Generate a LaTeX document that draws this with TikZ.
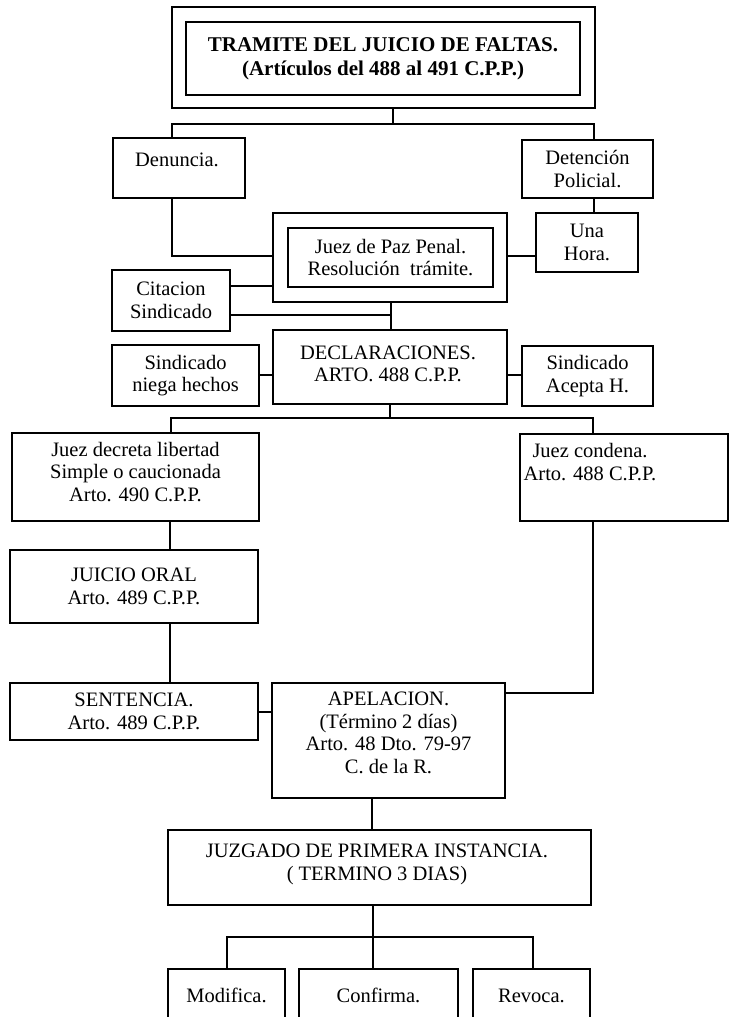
\documentclass[tikz,border=0pt]{standalone}
\usepackage{fontspec}
\setmainfont{Liberation Serif}
\begin{document}
\begin{tikzpicture}[x=1pt,y=-1pt,
  box/.style={draw,line width=1.3pt,inner sep=0pt,align=center,
    font=\fontsize{20.5}{22.5}\selectfont},
  txt/.style={inner sep=0pt,align=center,font=\fontsize{20.5}{22.5}\selectfont},
  ln/.style={line width=1.3pt}]
\useasboundingbox (0,0) rectangle (729,1017);
\clip (0,0) rectangle (729,1017);
% title
\node[box,minimum width=423pt,minimum height=101pt] (tout) at (383.5,57.5) {};
\node[box,minimum width=394pt,minimum height=73pt,font=\bfseries\fontsize{21}{24}\selectfont] (tin) at (383,58.5)
  {TRAMITE DEL JUICIO DE FALTAS.\\(Artículos del 488 al 491 C.P.P.)};
% row 1
\node[box,minimum width=132pt,minimum height=60pt] (den) at (179,168) {};
\node[txt] (dent) at (177,160) {Denuncia.};
\node[box,minimum width=131pt,minimum height=58pt] (det) at (587.5,169) {Detención\\Policial.};
\node[box,minimum width=102pt,minimum height=59pt] (una) at (587,242.5) {Una\\Hora.};
\node[box,minimum width=234pt,minimum height=89pt] (jout) at (390,257.5) {};
\node[box,minimum width=205pt,minimum height=59pt] (jin) at (390.5,257.5) {Juez de Paz Penal.\\Resolución\ \ trámite.};
\node[box,minimum width=118pt,minimum height=61pt] (cit) at (171,300.5) {Citacion\\Sindicado};
% declaraciones row
\node[box,minimum width=234pt,minimum height=74pt] (decl) at (390,367) {};
\node[txt] (declt) at (388,364) {DECLARACIONES.\\ARTO. 488 C.P.P.};
\node[box,minimum width=147pt,minimum height=61pt] (sneg) at (185.5,375.5) {Sindicado\\niega hechos};
\node[box,minimum width=131pt,minimum height=60pt] (sacep) at (587.5,376) {Sindicado\\Acepta H.};
% second level
\node[box,minimum width=247pt,minimum height=88pt] (jdec) at (135.5,477) {};
\node[txt] (jdect) at (135.5,472) {Juez decreta libertad\\Simple o caucionada\\Arto. 490 C.P.P.};
\node[box,minimum width=208pt,minimum height=87pt] (jcond) at (624,477.5) {};
\node[txt] (jcondt) at (590,462) {Juez condena.\\Arto. 488 C.P.P.};
\node[box,minimum width=248pt,minimum height=73pt] (juicio) at (134,586.5) {JUICIO ORAL\\Arto. 489 C.P.P.};
\node[box,minimum width=248pt,minimum height=57pt] (sent) at (134,711.5) {SENTENCIA.\\Arto. 489 C.P.P.};
\node[box,minimum width=233pt,minimum height=115pt] (apel) at (388.5,740.5) {};
\node[txt] (apelt) at (388.5,733) {APELACION.\\(Término 2 días)\\Arto. 48 Dto. 79-97\\C. de la R.};
\node[box,minimum width=423pt,minimum height=75pt] (juzg) at (379.5,867.5) {};
\node[txt] (juzgt) at (377,864.5) {JUZGADO DE PRIMERA INSTANCIA.\\( TERMINO 3 DIAS)};
\node[box,minimum width=117pt,minimum height=80pt] (mod) at (226.5,1009) {};
\node[box,minimum width=159pt,minimum height=80pt] (conf) at (378.5,1009) {};
\node[box,minimum width=117pt,minimum height=80pt] (rev) at (531.5,1009) {};
\node[txt,anchor=base] (modt) at (226.5,1002) {Modifica.};
\node[txt,anchor=base] (conft) at (378.5,1002) {Confirma.};
\node[txt,anchor=base] (revt) at (531.5,1002) {Revoca.};
% connectors
\coordinate (b1) at (393,124);
\coordinate (b1l) at (172,124);
\coordinate (b1r) at (594,124);
\draw[ln] (tout.south -| b1) -- (b1);
\draw[ln] (b1l |- den.north) -- (b1l) -- (b1r) -- (b1r |- det.north);
\draw[ln] (b1r |- det.south) -- (b1r |- una.north);
\coordinate (j1) at (172,256);
\draw[ln] (j1 |- den.south) -- (j1) -- (j1 -| jout.west);
\draw[ln] (una.west |- j1) -- (jout.east |- j1);
\coordinate (c1) at (230,286);
\draw[ln] (cit.east |- c1) -- (jout.west |- c1);
\coordinate (c2) at (391,315);
\draw[ln] (cit.east |- c2) -- (c2);
\draw[ln] (c2 |- jout.south) -- (c2 |- decl.north);
\coordinate (d1) at (390,375);
\draw[ln] (sneg.east |- d1) -- (decl.west |- d1);
\draw[ln] (decl.east |- d1) -- (sacep.west |- d1);
\coordinate (b2) at (390,418);
\coordinate (b2l) at (171,418);
\coordinate (b2r) at (593,418);
\draw[ln] (b2 |- decl.south) -- (b2);
\draw[ln] (b2l |- jdec.north) -- (b2l) -- (b2r) -- (b2r |- jcond.north);
\coordinate (v1) at (170,600);
\draw[ln] (v1 |- jdec.south) -- (v1 |- juicio.north);
\draw[ln] (v1 |- juicio.south) -- (v1 |- sent.north);
\coordinate (s1) at (265,712);
\draw[ln] (sent.east |- s1) -- (apel.west |- s1);
\coordinate (a1) at (593,693);
\draw[ln] (a1 |- jcond.south) -- (a1) -- (a1 -| apel.east);
\coordinate (a2) at (372,815);
\draw[ln] (a2 |- apel.south) -- (a2 |- juzg.north);
\coordinate (b3) at (373,937);
\coordinate (b3l) at (227,937);
\coordinate (b3r) at (533,937);
\draw[ln] (b3 |- juzg.south) -- (b3) -- (b3 |- conf.north);
\draw[ln] (b3l |- mod.north) -- (b3l) -- (b3r) -- (b3r |- rev.north);
\end{tikzpicture}
\end{document}
